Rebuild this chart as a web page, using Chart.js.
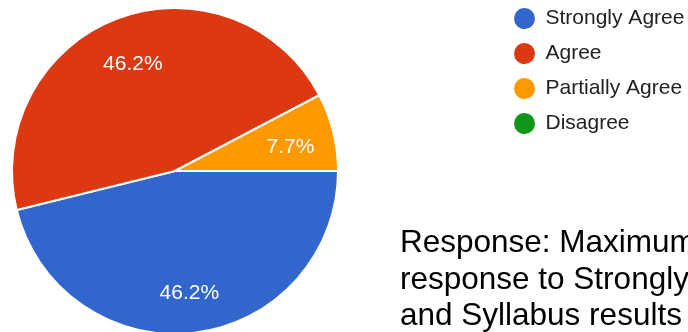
<!DOCTYPE html>
<html lang="en">
<head>
  <meta charset="UTF-8">
  <title>Response pie chart</title>
  <script src="https://cdn.jsdelivr.net/npm/chart.js"></script>
  <style>
    body {
      margin: 0;
      background: #ffffff;
      font-family: 'Liberation Sans', Arial, sans-serif;
    }
    #frame {
      position: relative;
      width: 688px;
      height: 332px;
      overflow: hidden;
      background: #ffffff;
    }
    #responseChart {
      position: absolute;
      left: -150px;
      top: -6px;
    }
    #note {
      position: absolute;
      left: 400px;
      top: 223px;
      font-size: 31.5px;
      line-height: 36.5px;
      color: #000000;
      white-space: nowrap;
    }
  </style>
</head>
<body>
  <div id="frame">
    <canvas id="responseChart" width="840" height="354" style="width:840px;height:354px"></canvas>
    <div id="note">Response: Maximum<br>response to Strongly Agree<br>and Syllabus results</div>
  </div>

  <script>
    const categories = ['Strongly Agree', 'Agree', 'Partially Agree', 'Disagree'];
    const responses = [6, 6, 1, 0];
    const sliceColors = ['#3366cc', '#dc3912', '#ff9900', '#109618'];

    // white percentage text inside each slice
    const sliceLabels = {
      id: 'sliceLabels',
      afterDatasetsDraw(chart) {
        const ctx = chart.ctx;
        const meta = chart.getDatasetMeta(0);
        const total = responses.reduce((a, b) => a + b, 0);
        ctx.save();
        ctx.font = '21px "Liberation Sans", Arial, sans-serif';
        ctx.fillStyle = '#ffffff';
        ctx.textAlign = 'center';
        ctx.textBaseline = 'alphabetic';
        meta.data.forEach((arc, i) => {
          if (!responses[i]) return;
          const p = arc.getProps(['x', 'y', 'startAngle', 'endAngle', 'outerRadius'], true);
          const mid = (p.startAngle + p.endAngle) / 2;
          const r = p.outerRadius * 0.73;
          const text = (responses[i] / total * 100).toFixed(1) + '%';
          ctx.fillText(text, p.x + Math.cos(mid) * r, p.y + Math.sin(mid) * r + 10);
        });
        ctx.restore();
      }
    };

    const ctx = document.getElementById('responseChart').getContext('2d');
    new Chart(ctx, {
      type: 'pie',
      data: {
        labels: categories,
        datasets: [{
          data: responses,
          backgroundColor: sliceColors,
          borderColor: '#ffffff',
          borderWidth: 2
        }]
      },
      options: {
        responsive: false,
        animation: false,
        devicePixelRatio: 1,
        rotation: 90,
        radius: 163,
        layout: { padding: 0 },
        plugins: {
          tooltip: { enabled: false },
          legend: {
            position: 'right',
            align: 'start',
            maxWidth: 190,
            labels: {
              usePointStyle: true,
              pointStyle: 'circle',
              pointStyleWidth: 21,
              boxHeight: 15,
              padding: 14,
              color: '#222222',
              font: { family: '"Liberation Sans", Arial, sans-serif', size: 21 },
              generateLabels(chart) {
                const items = Chart.overrides.pie.plugins.legend.labels.generateLabels(chart);
                items.forEach(it => { it.lineWidth = 0; });
                return items;
              }
            }
          }
        }
      },
      plugins: [sliceLabels]
    });
  </script>
</body>
</html>
